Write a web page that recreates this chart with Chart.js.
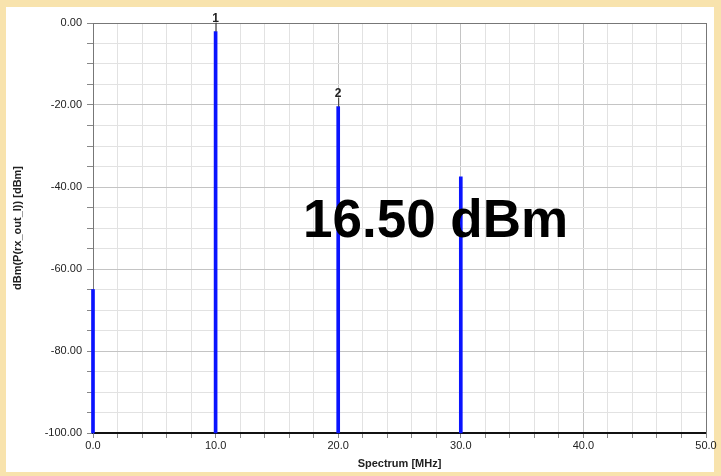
<!DOCTYPE html>
<html>
<head>
<meta charset="utf-8">
<script src="https://cdn.jsdelivr.net/npm/chart.js@4.4.0/dist/chart.umd.min.js"></script>
<style>
  html, body { margin: 0; padding: 0; background: #f8e3ad; }
  #wrap { position: absolute; left: 0; top: 0; width: 721px; height: 476px; }
</style>
</head>
<body>
<div id="wrap"><canvas id="spec" width="721" height="476"></canvas></div>
<script>
// spectrum lines (MHz / dBm)
const freqs = [0, 10, 20, 30];
const levels = [-65, -2.1, -20.4, -37.5];
// marker numbers shown above the lines
const markers = ['', '1', '2', ''];
const readout = '16.50 dBm';

const ctx = document.getElementById("spec").getContext("2d");

// white panel inside beige frame
const panelBg = {
    id: "panelBg",
    beforeDraw(chart) {
        const c = chart.ctx;
        c.save();
        c.fillStyle = "#f8e3ad";
        c.fillRect(0, 0, chart.width, chart.height);
        c.fillStyle = "#ffffff";
        c.fillRect(6, 7, 708, 465);
        c.restore();
    }
};

// marker labels + big readout text
const overlay = {
    id: "overlay",
    afterDatasetsDraw(chart) {
        const c = chart.ctx;
        const xs = chart.scales.x, ys = chart.scales.y;
        c.save();
        c.fillStyle = "#222";
        c.strokeStyle = "#333";
        c.lineWidth = 1;
        c.font = "bold 12px 'Liberation Sans', Arial, sans-serif";
        c.textAlign = "center";
        c.textBaseline = "bottom";
        markers.forEach((m, i) => {
            if (!m) return;
            const px = xs.getPixelForValue(freqs[i]);
            const py = ys.getPixelForValue(levels[i]);
            c.beginPath();
            c.moveTo(px + 0.5, py - 9);
            c.lineTo(px + 0.5, py);
            c.stroke();
            c.fillText(m, px, py - 7);
        });
        c.font = "bold 53px 'Liberation Sans', Arial, sans-serif";
        c.textAlign = "left";
        c.textBaseline = "alphabetic";
        c.fillStyle = "#000";
        c.fillText(readout, 303, 237);
        c.restore();
    }
};

const chart = new Chart(ctx, {
    type: "bar",
    data: {
        datasets: [{
            data: freqs.map((f, i) => ({ x: f, y: [-100, levels[i]] })),
            backgroundColor: "#0a14ff",
            borderWidth: 0,
            barThickness: 3,
            clip: false,
        }],
    },
    options: {
        responsive: false,
        animation: false,
        layout: { padding: { left: 0, top: 23, right: 15, bottom: 0 } },
        plugins: { legend: { display: false }, tooltip: { enabled: false } },
        scales: {
            x: {
                type: "linear",
                min: 0, max: 50,
                offset: false,
                afterFit(s) { s.height = 43; },
                ticks: {
                    stepSize: 2,
                    autoSkip: false,
                    maxRotation: 0,
                    padding: 1,
                    color: "#222",
                    font: { family: "'Liberation Sans', Arial", size: 11 },
                    callback: v => (v % 10 === 0 ? v.toFixed(1) : ""),
                },
                grid: {
                    offset: false,
                    color: c => (c.tick && c.tick.value % 10 === 0 ? "#c4c4c4" : "#e2e2e2"),
                    tickColor: "#888",
                    tickLength: 5,
                    lineWidth: 1,
                },
                border: { color: "#111", width: 2 },
                title: {
                    display: true,
                    text: "Spectrum [MHz]",
                    color: "#222",
                    font: { family: "'Liberation Sans', Arial", size: 11, weight: "bold" },
                    padding: { top: 2, bottom: 5 },
                },
            },
            y: {
                min: -100, max: 0,
                afterFit(s) { s.width = 93; },
                ticks: {
                    stepSize: 5,
                    autoSkip: false,
                    padding: 5,
                    color: "#222",
                    font: { family: "'Liberation Sans', Arial", size: 11 },
                    callback: v => (v % 20 === 0 ? v.toFixed(2) : ""),
                },
                grid: {
                    color: c => (c.tick && c.tick.value % 20 === 0 ? "#c4c4c4" : "#e2e2e2"),
                    tickColor: "#888",
                    tickLength: 6,
                    lineWidth: 1,
                },
                border: { color: "#777", width: 1 },
                title: {
                    display: true,
                    text: "dBm(P(rx_out_I)) [dBm]",
                    color: "#222",
                    font: { family: "'Liberation Sans', Arial", size: 11, weight: "bold" },
                    padding: { top: 11, bottom: 0 },
                },
            },
            x2: {
                type: "linear", position: "top", min: 0, max: 50,
                afterFit(s) { s.height = 0; },
                ticks: { display: false },
                grid: { display: false },
                border: { color: "#777", width: 1 },
            },
            y2: {
                position: "right", min: -100, max: 0,
                afterFit(s) { s.width = 0; },
                ticks: { display: false },
                grid: { display: false },
                border: { color: "#777", width: 1 },
            },
        },
    },
    plugins: [panelBg, overlay],
});
</script>
</body>
</html>
